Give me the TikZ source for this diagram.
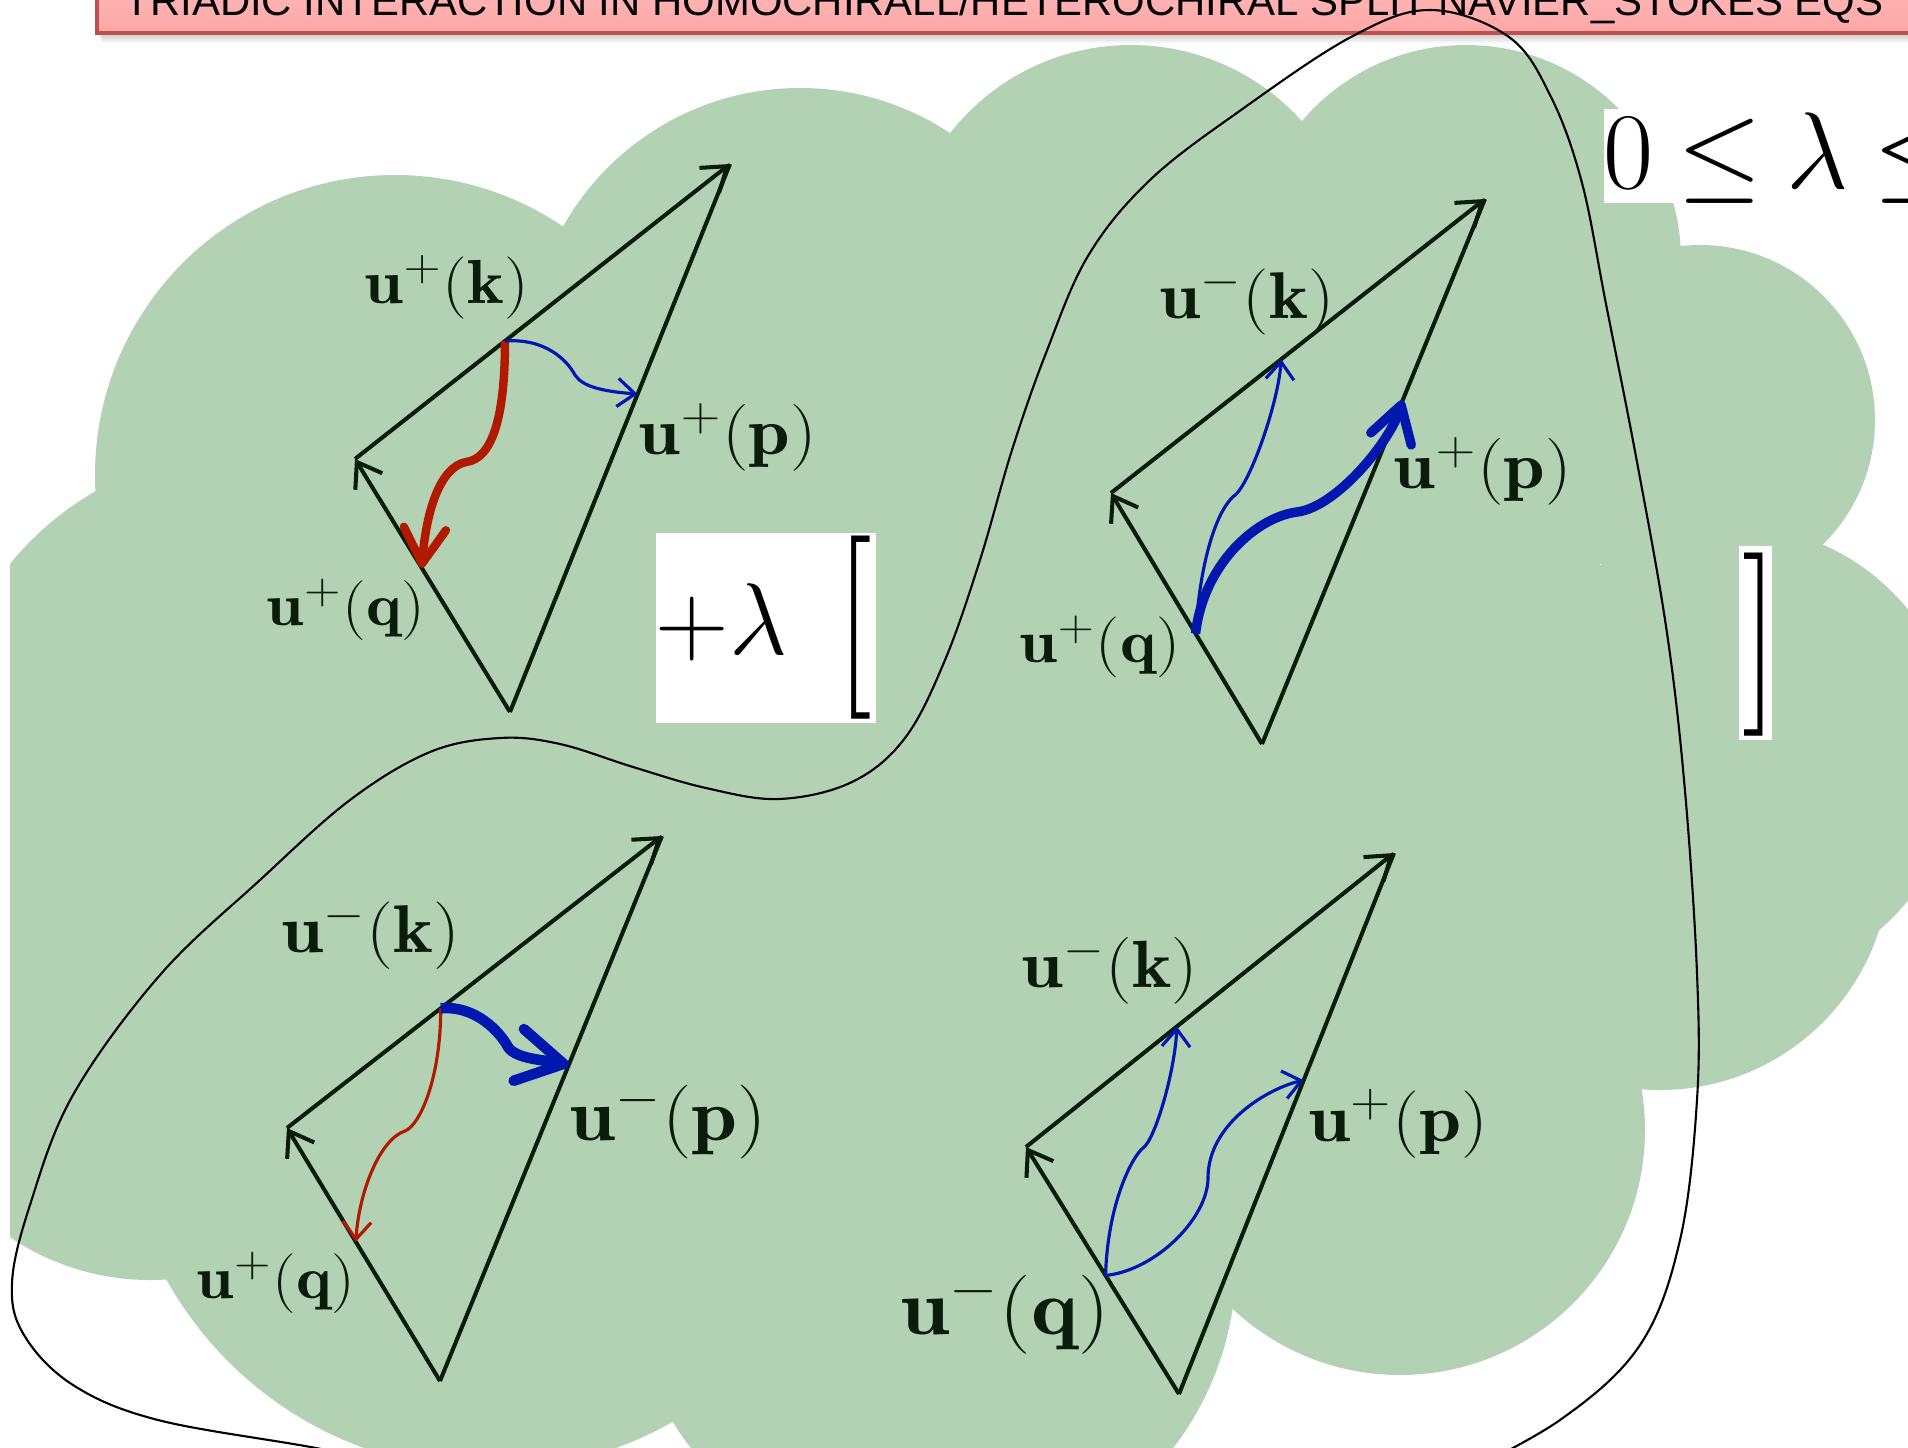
\documentclass[tikz,border=0pt]{standalone}
\usepackage{fix-cm}
\usepackage{fontspec}
\usepackage{amsmath}
\usepackage{graphicx}
\newfontfamily\bannerfont{Liberation Sans}
\usetikzlibrary{arrows.meta,calc}

\definecolor{cloudgreen}{RGB}{179,210,180}
\definecolor{edgeblk}{RGB}{10,28,10}
\definecolor{flowred}{RGB}{178,26,0}
\definecolor{flowblue}{RGB}{0,24,176}
\definecolor{bannertop}{RGB}{255,200,200}
\definecolor{bannerbot}{RGB}{255,166,166}
\definecolor{banneredge}{RGB}{192,80,77}

% helical mode label, a little wider than plain TeX
\newcommand{\wmode}[2]{\scalebox{1.12}[1]{$\mathbf{u}^{#1}(\mathbf{#2})$}}

\begin{document}
\begin{tikzpicture}[
    x=0.01cm, y=-0.01cm,
    >={Straight Barb[length=6.5pt,width=9pt]},
    trisides/.style={draw=edgeblk, line width=1.15pt},
    vlabel/.style={inner sep=0pt, text=edgeblk, font=\fontsize{#1}{#1}\selectfont},
    thinflow/.style={draw=#1, line width=0.9pt, -{Straight Barb[length=5pt,width=8pt]}},
    thickflow/.style={draw=#1, line width=2.4pt, -{Straight Barb[length=10pt,width=12pt,round]}},
    puff/.style={fill=cloudgreen},
    eqbox/.style={fill=white, inner sep=0pt, text=black},
    loopline/.style={draw=black, line width=0.6pt}
]
\useasboundingbox (0,0) rectangle (1908,1448);
\clip (0,0) rectangle (1908,1448);

% Title banner (runs off the top and right edge)
\foreach \s in {1,...,5}
    \fill[black, opacity=0.045] (97+\s,-60) rectangle (1950,33+2*\s);
\shadedraw[top color=bannertop, bottom color=bannerbot, draw=banneredge, line width=0.9pt] (97,-60) rectangle (1950,33);
\node[anchor=base west, inner sep=0pt, font=\bannerfont\fontsize{11.9}{14}\selectfont] (title) at (124,15)
    {TRIADIC INTERACTION IN HOMOCHIRALL/HETEROCHIRAL SPLIT NAVIER\_STOKES EQS};

% Green cloud behind the four triads
\begin{scope}
    \clip (10,0) rectangle (1908,1448);
    \foreach \cx/\cy/\r in {395/475/300, 800/360/272, 1131/275/230, 1466/260/215,
                            1700/420/175, 1730/755/230, 1660/860/230, 1400/1130/245,
                            932/1263/304, 490/1100/370, 150/1030/250, 250/760/310}
        \fill[puff] (\cx,\cy) circle[radius=\r];
    \fill[puff] (250,250) rectangle (1600,1200);
\end{scope}

% Triad 1 (top left): u+ u+ u+
\coordinate (t1T) at (730,164);
\coordinate (t1L) at (355,459);
\coordinate (t1B) at (510,712);
\draw[trisides,->] (t1L) -- (t1T);
\draw[trisides,->] (t1B) -- (t1L);
\draw[trisides] (t1B) -- (t1T);
\coordinate (t1k) at ($(t1L)!0.40!(t1T)$);
\coordinate (t1q) at ($(t1L)!0.43!(t1B)$);
\coordinate (t1p) at ($(t1T)!0.42!(t1B)$);
\coordinate (t1r) at (466,462);
\coordinate (t1b) at (575,375);
\draw[thickflow=flowred] (t1k) .. controls +(0,80) and +(25,-3) .. (t1r) .. controls +(-25,5) and +(5,-60) .. (t1q);
\draw[thinflow=flowblue] (t1k) .. controls +(40,-3) and +(-8,-15) .. (t1b) .. controls +(8,12) and +(-35,-3) .. (t1p);
\node[vlabel=17.7] (t1kl) at (447,287) {\wmode{+}{k}};
\node[vlabel=19]   (t1pl) at (728,437) {\wmode{+}{p}};
\node[vlabel=17]   (t1ql) at (346,610) {\wmode{+}{q}};

% Triad 2 (top right): u- u+ u+
\coordinate (t2T) at (1485,199);
\coordinate (t2L) at (1111,493);
\coordinate (t2B) at (1262,744);
\draw[trisides,->] (t2L) -- (t2T);
\draw[trisides,->] (t2B) -- (t2L);
\draw[trisides] (t2B) -- (t2T);
\coordinate (t2q) at ($(t2L)!0.56!(t2B)$);
\coordinate (t2k) at ($(t2L)!0.455!(t2T)$);
\coordinate (t2p) at ($(t2B)!0.63!(t2T)$);
\coordinate (t2a) at (1234,496);
\coordinate (t2c) at (1297,512);
\draw[thinflow=flowblue] (t2q) .. controls +(5,-80) and +(-15,12) .. (t2a) .. controls +(15,-10) and +(-3,45) .. (t2k);
\draw[thickflow=flowblue, line width=2.7pt] (t2q) .. controls +(8,-70) and +(-40,5) .. (t2c) .. controls +(40,-5) and +(-12,40) .. (t2p);
\node[vlabel=18.8] (t2kl) at (1247,301) {\wmode{-}{k}};
\node[vlabel=19]   (t2pl) at (1483,471) {\wmode{+}{p}};
\node[vlabel=17.3] (t2ql) at (1100,647) {\wmode{+}{q}};

% Triad 3 (bottom left): u- u- u+
\coordinate (t3T) at (662,836);
\coordinate (t3L) at (287,1128);
\coordinate (t3B) at (440,1381);
\draw[trisides,->] (t3L) -- (t3T);
\draw[trisides,->] (t3B) -- (t3L);
\draw[trisides] (t3B) -- (t3T);
\coordinate (t3k) at ($(t3L)!0.41!(t3T)$);
\coordinate (t3q) at ($(t3L)!0.45!(t3B)$);
\coordinate (t3p) at ($(t3B)!0.58!(t3T)$);
\coordinate (t3r) at (405,1131);
\coordinate (t3b) at (508,1047);
\draw[thinflow=flowred] (t3k) .. controls +(0,70) and +(15,-6) .. (t3r) .. controls +(-25,8) and +(3,-50) .. (t3q);
\draw[thickflow=flowblue, line width=3pt, -{Straight Barb[length=13pt,width=15pt,round]}]
    (t3k) .. controls +(35,-3) and +(-8,-15) .. (t3b) .. controls +(8,12) and +(-25,-5) .. (t3p);
\node[vlabel=19.2] (t3kl) at (371,935)  {\wmode{-}{k}};
\node[vlabel=21]   (t3pl) at (668,1121) {\wmode{-}{p}};
\node[vlabel=17]   (t3ql) at (276,1283) {\wmode{+}{q}};

% Triad 4 (bottom right): u- u+ u-
\coordinate (t4T) at (1394,853);
\coordinate (t4L) at (1026,1147);
\coordinate (t4B) at (1179,1394);
\draw[trisides,->] (t4L) -- (t4T);
\draw[trisides,->] (t4B) -- (t4L);
\draw[trisides] (t4B) -- (t4T);
\coordinate (t4q) at ($(t4L)!0.52!(t4B)$);
\coordinate (t4k) at ($(t4L)!0.41!(t4T)$);
\coordinate (t4p) at ($(t4B)!0.58!(t4T)$);
\coordinate (t4a) at (1143,1148);
\coordinate (t4c) at (1208,1178);
\draw[thinflow=flowblue] (t4q) .. controls +(2,-70) and +(-12,10) .. (t4a) .. controls +(12,-8) and +(-2,45) .. (t4k);
\draw[thinflow=flowblue] (t4q) .. controls +(50,-5) and +(0,40) .. (t4c) .. controls +(0,-55) and +(-35,8) .. (t4p);
\node[vlabel=19]   (t4kl) at (1110,970)  {\wmode{-}{k}};
\node[vlabel=19.2] (t4pl) at (1398,1124) {\wmode{+}{p}};
\node[vlabel=22.5] (t4ql) at (1005,1314) {\wmode{-}{q}};

% Pasted equation pieces
\node[eqbox, minimum width=2.2cm, minimum height=1.9cm, font=\fontsize{29}{29}\selectfont] (lambox) at (766,628)
    {\makebox[2.2cm][l]{$+\lambda$\hspace{14pt}\raisebox{-5.5pt}{\scalebox{1.4}[1.8]{[}}}};
\node[eqbox, minimum width=0.33cm, minimum height=1.93cm] (rbox) at (1755,643) {};
\node[inner sep=0pt, font=\fontsize{29}{29}\selectfont] (rbrk) at (1760,645) {\scalebox{1.4}[1.8]{]}};
\node[eqbox, anchor=base west, font=\fontsize{31}{31}\selectfont, text height=22.5pt, text depth=4.3pt] (lamrange) at (1603,188)
    {$\thickmuskip=4mu\relax 0\le\lambda\le$};

% Hand-drawn loop round the heterochiral triads
\draw[loopline] plot[smooth, tension=0.6] coordinates {
    (420,1470) (316,1448) (158,1420) (73,1385) (24,1335) (12,1283) (30,1205) (73,1095)
    (160,975) (260,880) (350,800) (430,752) (500,738) (560,744) (633,767) (706,788)
    (779,799) (852,782) (905,738) (945,660) (980,560) (1012,450) (1046,353) (1088,256)
    (1150,180) (1241,110) (1351,37) (1430,10) (1509,37) (1551,97) (1582,183) (1606,304)
    (1637,462) (1667,633) (1685,791) (1697,973) (1697,1100) (1680,1240) (1640,1345)
    (1560,1420) (1450,1480)};
\end{tikzpicture}
\end{document}
